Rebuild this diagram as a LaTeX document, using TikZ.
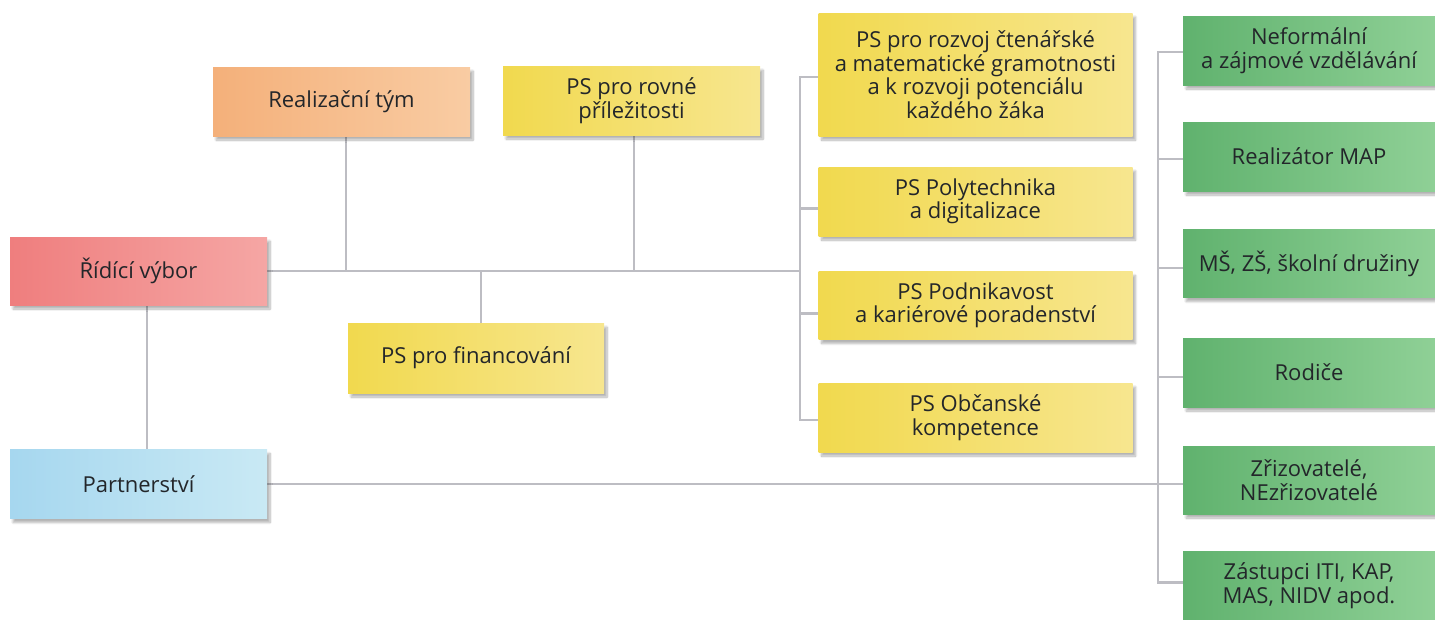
\documentclass[tikz,border=0pt]{standalone}
\usepackage{fontspec}
\setmainfont{Open Sans}
\usetikzlibrary{shadows.blur,backgrounds}
\definecolor{txt}{HTML}{23262A}
\definecolor{ln}{HTML}{BDBDC3}
\definecolor{redA}{HTML}{EF7E7E}
\definecolor{redB}{HTML}{F5A6A4}
\definecolor{orA}{HTML}{F4B07A}
\definecolor{orB}{HTML}{F9CCA3}
\definecolor{yeA}{HTML}{F1D94E}
\definecolor{yeB}{HTML}{F7E68F}
\definecolor{blA}{HTML}{A6D7EF}
\definecolor{blB}{HTML}{C9E9F4}
\definecolor{grA}{HTML}{60B26E}
\definecolor{grB}{HTML}{8FD096}
\tikzset{
  card/.style={minimum width=257pt, minimum height=69pt, inner sep=0pt, align=center,
    text=txt, font=\fontsize{22}{23.5}\selectfont,
    blur shadow={shadow xshift=3pt, shadow yshift=-4pt, shadow blur steps=8, shadow opacity=30}},
  redcard/.style={card, left color=redA, right color=redB},
  orcard/.style={card, left color=orA, right color=orB},
  yecard/.style={card, left color=yeA, right color=yeB},
  blcard/.style={card, left color=blA, right color=blB},
  grcard/.style={card, left color=grA, right color=grB, minimum width=252pt},
  conn/.style={draw=ln, line width=2.7pt}
}
\begin{document}
\begin{tikzpicture}[x=1pt,y=-1pt]
\useasboundingbox (0,0) rectangle (1435,619);
% left part
\node[redcard, minimum height=68pt] (rv) at (138.5,271) {Řídící výbor};
\node[orcard] (rt) at (341.5,101.5) {Realizační tým};
\node[yecard] (pp) at (631.5,100.5) {PS pro rovné\\příležitosti};
\node[yecard, minimum width=256pt, minimum height=70pt] (pf) at (476,358) {PS pro financování};
\node[blcard] (pa) at (138.5,484) {Partnerství};
% yellow column
\node[yecard, minimum width=314pt, minimum height=123pt] (y1) at (975.5,74.5) {PS pro rozvoj čtenářské\\a matematické gramotnosti\\a k rozvoji potenciálu\\každého žáka};
\node[yecard, minimum width=314pt] (y2) at (975.5,201.5) {PS Polytechnika\\a digitalizace};
\node[yecard, minimum width=314pt, minimum height=68pt] (y3) at (975.5,305.5) {PS Podnikavost\\a kariérové poradenství};
\node[yecard, minimum width=314pt] (y4) at (975.5,417.5) {PS Občanské\\kompetence};
% green column
\node[grcard] (g1) at (1309,50.5) {Neformální\\a zájmové vzdělávání};
\node[grcard] (g2) at (1309,156.5) {Realizátor MAP};
\node[grcard, minimum height=68pt] (g3) at (1309,263.5) {MŠ, ZŠ, školní družiny};
\node[grcard] (g4) at (1309,372.5) {Rodiče};
\node[grcard, minimum height=68pt] (g5) at (1309,480) {Zřizovatelé,\\NEzřizovatelé};
\node[grcard, minimum height=68pt] (g6) at (1309,585.5) {Zástupci ITI, KAP,\\MAS, NIDV apod.};
\coordinate (yb) at (800,271);
\coordinate (gb) at (1158,271);
\begin{scope}[on background layer]
  \draw[conn] (rv.east) -- (yb);
  \draw[conn] (rt.south -| 346,0) -- (yb -| 346,0);
  \draw[conn] (pp.south -| 634,0) -- (yb -| 634,0);
  \draw[conn] (pf.north -| 481,0) -- (yb -| 481,0);
  \draw[conn] (rv.south -| 147,0) -- (pa.north -| 147,0);
  % yellow bracket
  \draw[conn] ([yshift=-2.5pt]y1.west) -- ([yshift=-2.5pt]y1.west -| yb) -- ([yshift=-2.5pt]y4.west -| yb) -- ([yshift=-2.5pt]y4.west);
  \draw[conn] ([yshift=-7pt]y2.west) -- ([yshift=-7pt]y2.west -| yb);
  \draw[conn] ([yshift=-8pt]y3.west) -- ([yshift=-8pt]y3.west -| yb);
  % green bracket
  \draw[conn] ([yshift=-1.5pt]g1.west) -- ([yshift=-1.5pt]g1.west -| gb) -- ([yshift=3pt]g6.west -| gb) -- ([yshift=3pt]g6.west);
  \draw[conn] ([yshift=-2.5pt]g2.west) -- ([yshift=-2.5pt]g2.west -| gb);
  \draw[conn] ([yshift=-4.5pt]g3.west) -- ([yshift=-4.5pt]g3.west -| gb);
  \draw[conn] ([yshift=-4.5pt]g4.west) -- ([yshift=-4.5pt]g4.west -| gb);
  \draw[conn] (pa.east) -- (pa.east -| g5.west);
\end{scope}
\end{tikzpicture}
\end{document}
